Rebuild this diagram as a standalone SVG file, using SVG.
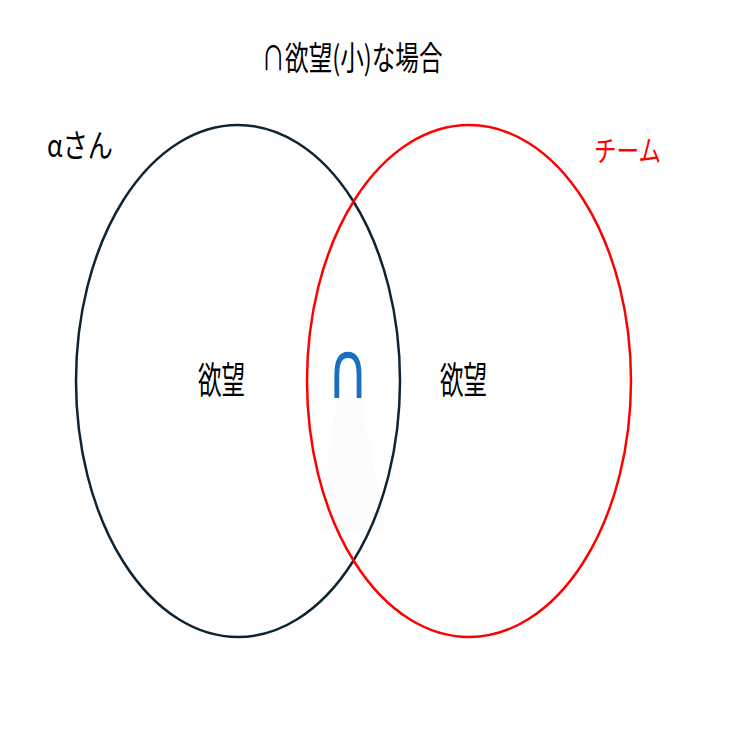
<svg xmlns="http://www.w3.org/2000/svg" width="736" height="736" viewBox="0 0 736 736">
<style>
.t{font-family:"Noto Sans CJK JP","Noto Sans",sans-serif;fill:#000}
</style>
<rect width="736" height="736" fill="#fff"/>
<g id="glow"><polygon points="337,400 361,400 386,530 318,530" fill="#fcfcfc"/></g>
<g id="connectors"></g>
<g id="alpha"><ellipse cx="238" cy="381" rx="162" ry="256" fill="none" stroke="#0e2433" stroke-width="2.5"/></g>
<g id="team"><ellipse cx="469" cy="381" rx="162" ry="256" fill="none" stroke="#ff0000" stroke-width="2.5"/></g>
<g id="title"><text class="t" x="352" y="70" font-size="33" text-anchor="middle" textLength="181" lengthAdjust="spacingAndGlyphs">∩欲望(小)な場合</text></g>
<g id="label-alpha"><text class="t" x="47" y="157" font-size="32" textLength="66" lengthAdjust="spacingAndGlyphs">αさん</text></g>
<g id="label-team"><text class="t" x="594" y="162" font-size="29" style="fill:#ff0000" textLength="67" lengthAdjust="spacingAndGlyphs">チーム</text></g>
<g id="left-desire"><text class="t" x="198" y="394" font-size="37" textLength="47" lengthAdjust="spacingAndGlyphs">欲望</text></g>
<g id="right-desire"><text class="t" x="440" y="394" font-size="37" textLength="47" lengthAdjust="spacingAndGlyphs">欲望</text></g>
<g id="cap"><text x="327" y="398" font-family="DejaVu Sans, sans-serif" font-size="80" fill="#1a6fc0" textLength="42" lengthAdjust="spacingAndGlyphs">∩</text></g>
</svg>
